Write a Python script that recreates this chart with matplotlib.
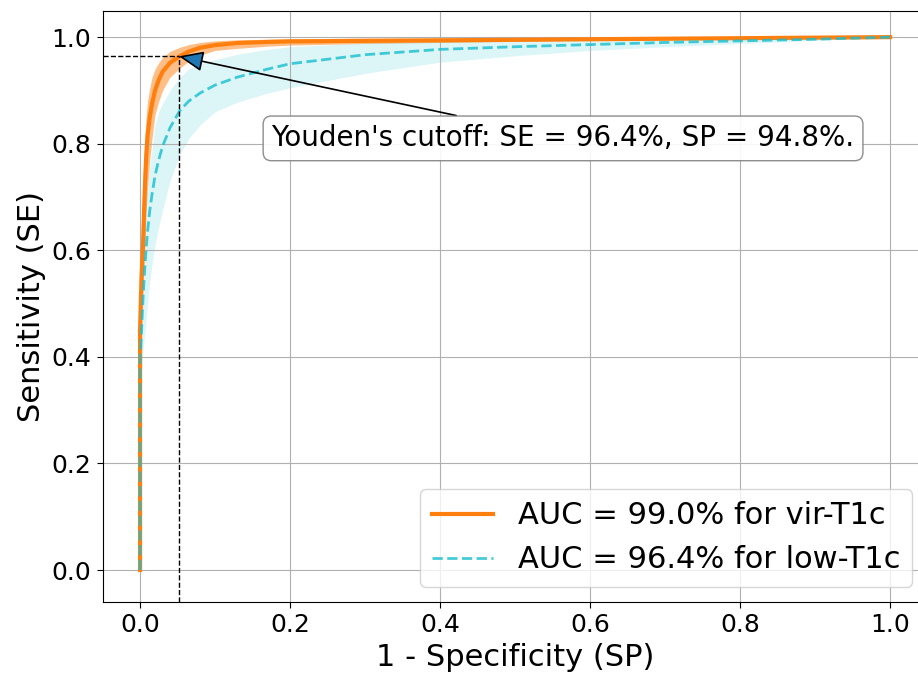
import matplotlib
matplotlib.use("Agg")
import matplotlib.pyplot as plt

# 1 - specificity grid (shared by both curves)
fpr = [0, 0, 0.001, 0.002, 0.004, 0.006, 0.008, 0.01, 0.013, 0.016, 0.02, 0.025,
       0.03, 0.04, 0.053, 0.065, 0.08, 0.1, 0.13, 0.17, 0.2, 0.3, 0.4, 0.5, 0.6,
       0.7, 0.8, 0.9, 1.0]

# vir-T1c: mean sensitivity and band
vir_mean = [0, 0.45, 0.50, 0.55, 0.61, 0.70, 0.77, 0.815, 0.85, 0.875, 0.90, 0.92,
            0.935, 0.952, 0.964, 0.973, 0.98, 0.985, 0.989, 0.991, 0.992, 0.993, 0.994,
            0.995, 0.996, 0.997, 0.998, 0.999, 1.0]
vir_low = [0, 0.40, 0.44, 0.48, 0.53, 0.60, 0.67, 0.72, 0.77, 0.81, 0.855, 0.88,
           0.90, 0.925, 0.942, 0.955, 0.966, 0.975, 0.979, 0.983, 0.985, 0.988, 0.990,
           0.992, 0.994, 0.995, 0.996, 0.998, 1.0]
vir_high = [0, 0.50, 0.58, 0.65, 0.74, 0.80, 0.85, 0.88, 0.905, 0.925, 0.94, 0.952,
            0.962, 0.973, 0.981, 0.986, 0.99, 0.993, 0.995, 0.996, 0.997, 0.998, 0.998,
            0.999, 0.999, 0.999, 1.0, 1.0, 1.0]

# low-T1c: mean sensitivity and band
low_mean = [0, 0.40, 0.42, 0.45, 0.51, 0.56, 0.60, 0.635, 0.675, 0.705, 0.74, 0.77,
            0.795, 0.83, 0.862, 0.88, 0.895, 0.91, 0.925, 0.94, 0.95, 0.967, 0.977,
            0.982, 0.986, 0.99, 0.993, 0.996, 1.0]
low_low = [0, 0.35, 0.36, 0.38, 0.41, 0.44, 0.47, 0.50, 0.54, 0.575, 0.61, 0.645,
           0.675, 0.73, 0.78, 0.81, 0.835, 0.86, 0.878, 0.895, 0.905, 0.932, 0.953,
           0.965, 0.975, 0.982, 0.988, 0.994, 1.0]
low_high = [0, 0.45, 0.50, 0.55, 0.62, 0.67, 0.70, 0.72, 0.76, 0.79, 0.835, 0.86,
            0.875, 0.90, 0.925, 0.94, 0.95, 0.958, 0.968, 0.977, 0.982, 0.989, 0.992,
            0.994, 0.995, 0.996, 0.997, 0.998, 1.0]

labels = ["AUC = 99.0% for vir-T1c", "AUC = 96.4% for low-T1c"]

# Youden's cutoff
youden_fpr = 1 - 0.948
youden_se = 0.964
youden_text = "Youden's cutoff: SE = 96.4%, SP = 94.8%."

fig = plt.figure(figsize=(9.18, 6.76), dpi=100)
# axes run a little past the right edge (the original was cropped there)
ax = fig.add_axes([0.1117, 0.1095, 0.8987, 0.8742])

ax.fill_between(fpr, vir_low, vir_high, color="C1", alpha=0.5, lw=0)
ax.fill_between(fpr, low_low, low_high, color="C9", alpha=0.15, lw=0)
ax.plot(fpr, vir_mean, color="C1", lw=3, label=labels[0])
ax.plot(fpr, low_mean, color="C9", alpha=0.8, lw=2, ls="--", label=labels[1])

ax.set_xlim(-0.05, 1.05)
ax.set_ylim(-0.06, 1.049)

ax.plot([-0.05, youden_fpr], [youden_se, youden_se], "k--", lw=1)
ax.plot([youden_fpr, youden_fpr], [-0.06, youden_se], "k--", lw=1)

ax.annotate(youden_text, xy=(youden_fpr, youden_se), xytext=(0.564, 0.81),
            ha="center", va="center", fontsize=20,
            bbox=dict(boxstyle="round", fc="white", ec="gray", alpha=0.9),
            arrowprops=dict(arrowstyle="-|>,head_length=0.6,head_width=0.25",
                            mutation_scale=25, fc="C0", ec="black", lw=1.2,
                            shrinkA=0, shrinkB=0))

ax.grid(True)
ax.set_xlabel("1 - Specificity (SP)", fontsize=22)
ax.set_ylabel("Sensitivity (SE)", fontsize=22)
ax.tick_params(labelsize=18, length=4.5)
ax.legend(loc="lower right", fontsize=22)

fig.savefig("out.png", dpi=100)
